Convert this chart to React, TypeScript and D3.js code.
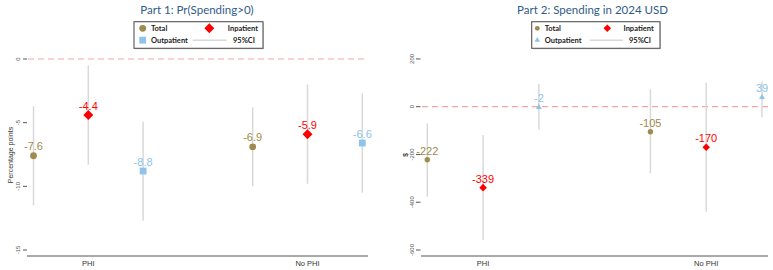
import React from "react";
import * as d3 from "d3";

// ---------- data ----------
const categories = ["PHI", "No PHI"];
const seriesNames = ["Total", "Inpatient", "Outpatient"];

// Part 1: Pr(Spending>0), percentage points
const p1Total = [-7.6, -6.9];
const p1TotalLo = [-11.5, -10.0];
const p1TotalHi = [-3.7, -3.8];
const p1Inpatient = [-4.4, -5.9];
const p1InpatientLo = [-8.3, -9.8];
const p1InpatientHi = [-0.5, -2.0];
const p1Outpatient = [-8.8, -6.6];
const p1OutpatientLo = [-12.7, -10.5];
const p1OutpatientHi = [-4.9, -2.7];
const p1Ticks = [0, -5, -10, -15];

// Part 2: Spending in 2024 USD
const p2Total = [-222, -105];
const p2TotalLo = [-377, -279];
const p2TotalHi = [-70, 73];
const p2Inpatient = [-339, -170];
const p2InpatientLo = [-558, -440];
const p2InpatientHi = [-118, 100];
const p2Outpatient = [-2, 39];
const p2OutpatientLo = [-97, -44];
const p2OutpatientHi = [95, 105];
const p2Ticks = [200, 0, -200, -400, -600];

const COLORS: Record<string, string> = {
  Total: "#a08a4e",
  Inpatient: "#ff0000",
  Outpatient: "#8ec3ea",
};
const CI_COLOR = "#d9d9d9";

type Pt = { series: string; cat: number; slot: number; est: number; lo: number; hi: number };

function buildPoints(est: number[][], lo: number[][], hi: number[][]): Pt[] {
  const pts: Pt[] = [];
  categories.forEach((_, c) => {
    seriesNames.forEach((s, si) => {
      pts.push({ series: s, cat: c, slot: c * 4 + si, est: est[si][c], lo: lo[si][c], hi: hi[si][c] });
    });
  });
  return pts;
}

const part1 = buildPoints(
  [p1Total, p1Inpatient, p1Outpatient],
  [p1TotalLo, p1InpatientLo, p1OutpatientLo],
  [p1TotalHi, p1InpatientHi, p1OutpatientHi]
);
const part2 = buildPoints(
  [p2Total, p2Inpatient, p2Outpatient],
  [p2TotalLo, p2InpatientLo, p2OutpatientLo],
  [p2TotalHi, p2InpatientHi, p2OutpatientHi]
);

type Layout = {
  title: string;
  titleX: number;
  yDomain: [number, number];
  yRange: [number, number];
  xRange: [number, number];
  axisX: [number, number];
  axisY: number;
  tickLabelX: number;
  tickX: [number, number];
  ticks: number[];
  ylabel: string;
  ylabelX: number;
  ylabelY: number;
  ylabelSize: number;
  ylabelBold: boolean;
  legend: { x0: number; x1: number; mX: number; tX: number; dX: number; inEnd: number; lineX: [number, number]; ciEnd: number };
  circleR: number;
  diamondH: number;
  outSize: number;
  outShape: "square" | "triangle";
  legCircleR: number;
  legDiamondH: number;
  legOutSize: number;
  labelOffset: number;
};

const L1: Layout = {
  title: "Part 1: Pr(Spending>0)",
  titleX: 197,
  yDomain: [0, -15],
  yRange: [59, 250],
  xRange: [33.5, 362.3],
  axisX: [27, 368],
  axisY: 256,
  tickLabelX: 18,
  tickX: [23, 27],
  ticks: p1Ticks,
  ylabel: "Percentage points",
  ylabelX: 11,
  ylabelY: 155,
  ylabelSize: 7,
  ylabelBold: false,
  legend: { x0: 134, x1: 263, mX: 142.7, tX: 151, dX: 209.3, inEnd: 258, lineX: [192.7, 226.7], ciEnd: 255 },
  circleR: 3.4,
  diamondH: 5,
  outSize: 6.8,
  outShape: "square",
  legCircleR: 3.4,
  legDiamondH: 5,
  legOutSize: 6.8,
  labelOffset: 5.5,
};

const L2: Layout = {
  title: "Part 2: Spending in 2024 USD",
  titleX: 592.5,
  yDomain: [0, -600],
  yRange: [106.7, 250],
  xRange: [427.3, 762],
  axisX: [421, 768],
  axisY: 256,
  tickLabelX: 411.5,
  tickX: [416, 420.5],
  ticks: p2Ticks,
  ylabel: "$",
  ylabelX: 405.7,
  ylabelY: 155,
  ylabelSize: 6.5,
  ylabelBold: true,
  legend: { x0: 531.7, x1: 660, mX: 537.3, tX: 544.7, dX: 607.3, inEnd: 653.7, lineX: [589.7, 623], ciEnd: 651 },
  circleR: 2.7,
  diamondH: 3.8,
  outSize: 6,
  outShape: "triangle",
  legCircleR: 2.4,
  legDiamondH: 3.8,
  legOutSize: 5.5,
  labelOffset: 5,
};

function Marker({ series, x, y, L, legend }: { series: string; x: number; y: number; L: Layout; legend?: boolean }) {
  const color = COLORS[series];
  if (series === "Total") {
    return <circle cx={x} cy={y} r={legend ? L.legCircleR : L.circleR} fill={color} />;
  }
  if (series === "Inpatient") {
    const h = legend ? L.legDiamondH : L.diamondH;
    const s = h * Math.SQRT2;
    const path = d3.symbol(d3.symbolSquare, s * s)() as string;
    return <path d={path} transform={`translate(${x},${y}) rotate(45)`} fill={color} />;
  }
  const sz = legend ? L.legOutSize : L.outSize;
  if (L.outShape === "square") {
    return <rect x={x - sz / 2} y={y - sz / 2} width={sz} height={sz} fill={color} />;
  }
  const area = (Math.sqrt(3) / 4) * sz * sz;
  const path = d3.symbol(d3.symbolTriangle, area)() as string;
  return <path d={path} transform={`translate(${x},${y})`} fill={color} />;
}

const LEG_FONT = "Lato, 'Open Sans', sans-serif";
const NUM_FONT = "'Liberation Sans', Arial, sans-serif";

function Panel({ L, pts }: { L: Layout; pts: Pt[] }) {
  const y = d3.scaleLinear().domain(L.yDomain).range(L.yRange);
  const x = d3.scaleLinear().domain([0, 6]).range(L.xRange);
  const lg = L.legend;
  const row1 = 28.3;
  const row2 = 40.2;
  return (
    <g>
      <text x={L.titleX} y={13.5} textAnchor="middle" fontFamily={LEG_FONT} fontSize={11.5} fill="#2f5b87">
        {L.title}
      </text>
      {/* legend */}
      <rect x={lg.x0 + 1} y={22.7} width={lg.x1 - lg.x0} height={26.6} fill="#d8d8d8" />
      <rect x={lg.x0} y={21.7} width={lg.x1 - lg.x0} height={26.6} fill="#fff" stroke="#555" strokeWidth={1.1} />
      <Marker series="Total" x={lg.mX} y={row1} L={L} legend />
      <text x={lg.tX} y={row1 + 2.7} fontFamily={LEG_FONT} fontWeight="bold" fontSize={7.5} fill="#222">
        Total
      </text>
      <Marker series="Inpatient" x={lg.dX} y={row1} L={L} legend />
      <text x={lg.inEnd} y={row1 + 2.7} textAnchor="end" fontFamily={LEG_FONT} fontWeight="bold" fontSize={7.5} fill="#222">
        Inpatient
      </text>
      <Marker series="Outpatient" x={lg.mX} y={row2} L={L} legend />
      <text x={lg.tX} y={row2 + 2.7} fontFamily={LEG_FONT} fontWeight="bold" fontSize={7.5} fill="#222">
        Outpatient
      </text>
      <line x1={lg.lineX[0]} x2={lg.lineX[1]} y1={row2} y2={row2} stroke={CI_COLOR} strokeWidth={1.5} />
      <text x={lg.ciEnd} y={row2 + 2.7} textAnchor="end" fontFamily={LEG_FONT} fontWeight="bold" fontSize={7.5} fill="#222">
        95%CI
      </text>

      {/* y axis ticks */}
      {L.ticks.map((t) => (
        <g key={t}>
          <line x1={L.tickX[0]} x2={L.tickX[1]} y1={y(t)} y2={y(t)} stroke="#555" strokeWidth={1} />
          <text
            transform={`translate(${L.tickLabelX},${y(t)}) rotate(-90)`}
            textAnchor="middle"
            dy="0.35em"
            fontFamily={NUM_FONT}
            fontSize={6}
            fill="#555"
          >
            {String(t)}
          </text>
        </g>
      ))}
      <text
        transform={`translate(${L.ylabelX},${L.ylabelY}) rotate(-90)`}
        textAnchor="middle"
        dy="0.35em"
        fontFamily={NUM_FONT}
        fontSize={L.ylabelSize}
        fontWeight={L.ylabelBold ? "bold" : "normal"}
        fill="#333"
      >
        {L.ylabel}
      </text>

      {/* zero reference line */}
      <line x1={L.axisX[0] + 1} x2={L.axisX[1]} y1={y(0)} y2={y(0)} stroke="#f5a5a5" strokeWidth={1.2} strokeDasharray="6 4" />

      {/* x axis */}
      <line x1={L.axisX[0]} x2={L.axisX[1]} y1={L.axisY} y2={L.axisY} stroke="#8c8c8c" strokeWidth={1.5} />
      {categories.map((c, i) => (
        <text key={c} x={x(i * 4 + 1)} y={265.5} textAnchor="middle" fontFamily={NUM_FONT} fontSize={7.5} fill="#333">
          {c}
        </text>
      ))}

      {/* CIs */}
      {pts.map((p) => (
        <line key={"ci" + p.slot} x1={x(p.slot)} x2={x(p.slot)} y1={y(p.hi)} y2={y(p.lo)} stroke={CI_COLOR} strokeWidth={1.5} />
      ))}
      {/* markers */}
      {pts.map((p) => (
        <Marker key={"m" + p.slot} series={p.series} x={x(p.slot)} y={y(p.est)} L={L} />
      ))}
      {/* value labels */}
      {pts.map((p) => (
        <text
          key={"l" + p.slot}
          x={x(p.slot)}
          y={y(p.est) - L.labelOffset}
          textAnchor="middle"
          fontFamily={NUM_FONT}
          fontSize={11}
          fill={COLORS[p.series]}
        >
          {String(p.est)}
        </text>
      ))}
    </g>
  );
}

export default function App() {
  return (
    <svg
      width={773}
      height={270}
      viewBox="0 0 773 270"
      style={{ position: "fixed", left: 0, top: 0, background: "#fff" }}
    >
      <rect width={773} height={270} fill="#fff" />
      <Panel L={L1} pts={part1} />
      <Panel L={L2} pts={part2} />
    </svg>
  );
}
